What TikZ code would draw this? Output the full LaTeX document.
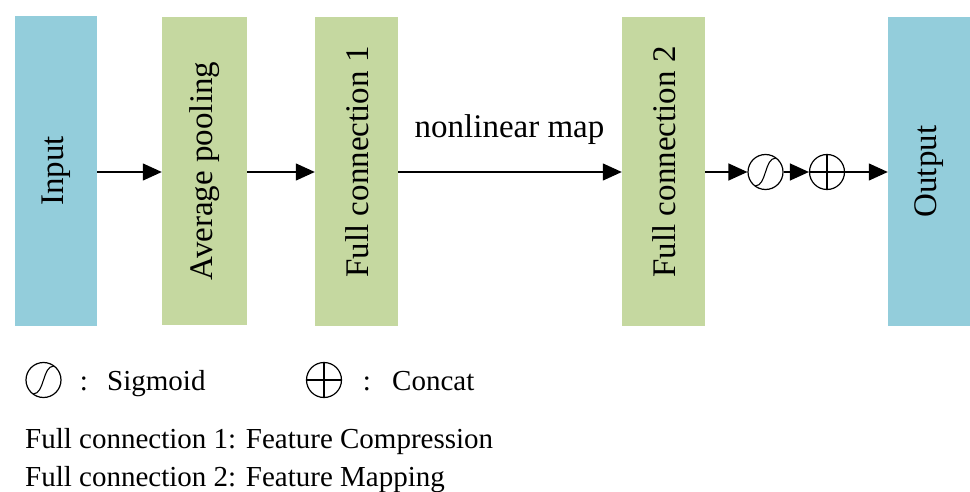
\documentclass[tikz,border=0pt]{standalone}
\usepackage{fontspec}
\setmainfont{Liberation Serif}
\usetikzlibrary{arrows.meta}
\definecolor{inblue}{RGB}{147,205,219}
\definecolor{fcgreen}{RGB}{197,216,160}
\tikzset{
  blockbox/.style={rectangle, draw=none, inner sep=0pt, minimum width=83pt, minimum height=309pt},
  bluebox/.style={blockbox, fill=inblue},
  greenbox/.style={blockbox, fill=fcgreen},
  vtext/.style={rotate=90, inner sep=0pt, font=\fontsize{33}{40}\selectfont},
  htext/.style={inner sep=0pt, font=\fontsize{33}{40}\selectfont},
  legtext/.style={inner sep=0pt, font=\fontsize{29}{35}\selectfont},
  flow/.style={line width=1.3pt, -{Triangle[length=19pt,width=17pt]}},
  sigop/.style={circle, draw, line width=1.2pt, minimum size=35pt, inner sep=0pt,
    path picture={\draw[line width=1.1pt]
      ([shift={(-10.5,14)}]path picture bounding box.center)
      .. controls ([shift={(1.5,14)}]path picture bounding box.center)
      and ([shift={(-1.5,-14)}]path picture bounding box.center)
      .. ([shift={(10.5,-14)}]path picture bounding box.center);}},
  catop/.style={circle, draw, line width=1.2pt, minimum size=35pt, inner sep=0pt,
    path picture={\draw[line width=1.1pt]
      (path picture bounding box.north) -- (path picture bounding box.south)
      (path picture bounding box.west) -- (path picture bounding box.east);}}
}
\begin{document}
\begin{tikzpicture}[x=1pt, y=-1pt]
\useasboundingbox (0,0) rectangle (970,492);

% processing blocks
\node[bluebox, minimum width=82pt, minimum height=310pt] (in) at (56,171) {};
\node[greenbox, minimum width=85pt, minimum height=308pt] (ap) at (204.5,171) {};
\node[greenbox] (fc1) at (356.5,171.5) {};
\node[greenbox] (fc2) at (663.5,171.5) {};
\node[bluebox, minimum width=82pt] (out) at (929,171.5) {};

% block labels
\node[vtext] (inT) at (56,171) {Input};
\node[vtext] (apT) at (204.5,171) {Average pooling};
\node[vtext] (fc1T) at (357,162) {Full connection 1};
\node[vtext] (fc2T) at (664,162) {Full connection 2};
\node[vtext] (outT) at (929,171.5) {Output};

% operators
\node[sigop] (sig) at (765.5,172) {};
\node[catop] (cat) at (827,172) {};

% connectors
\draw[flow] (in.east |- 0,172) -- (ap.west |- 0,172);
\draw[flow] (ap.east |- 0,172) -- (fc1.west |- 0,172);
\draw[flow] (fc1.east |- 0,172) -- (fc2.west |- 0,172);
\draw[flow] (fc2.east |- 0,172) -- (sig.west);
\draw[flow] (sig.east) -- (cat.west);
\draw[flow] (cat.east) -- (out.west |- 0,172);
\node[htext, anchor=base] (nl) at (509.5,138) {nonlinear map};

% legend
\node[sigop] (lsig) at (43.5,380) {};
\node[legtext, anchor=base] (lc1) at (84,390) {:};
\node[legtext, anchor=base west] (lsigT) at (107,390) {Sigmoid};
\node[catop] (lcat) at (324,380) {};
\node[legtext, anchor=base] (lc2) at (367,390) {:};
\node[legtext, anchor=base west] (lcatT) at (392,390) {Concat};

\node[legtext, anchor=base west] (note1) at (25,448) {Full connection 1: Feature Compression};
\node[legtext, anchor=base west] (note2) at (25,486) {Full connection 2: Feature Mapping};
\end{tikzpicture}
\end{document}
